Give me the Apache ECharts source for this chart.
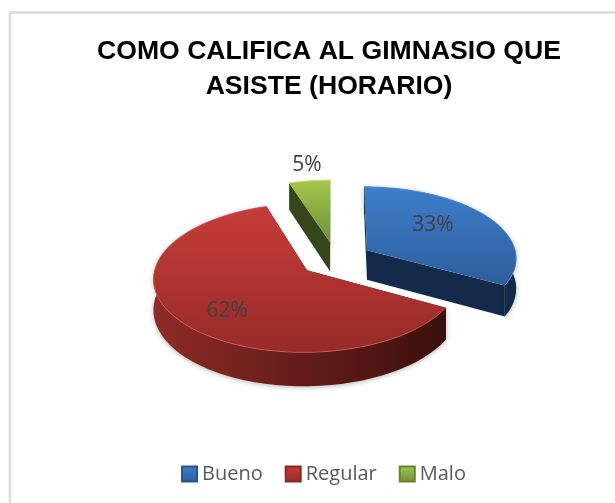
<!DOCTYPE html>
<html>
<head>
<meta charset="utf-8">
<style>html,body{margin:0;padding:0;background:#fff}#chart{width:615px;height:503px}</style>
<script src="https://cdn.jsdelivr.net/npm/echarts@6/dist/echarts.min.js"></script>
</head>
<body>
<div id="chart"></div>
<script>
var titleLines = ['COMO CALIFICA AL GIMNASIO QUE', 'ASISTE (HORARIO)'];
var categories = ['Bueno', 'Regular', 'Malo'];
var values = [33, 62, 5];

// colores: cara superior, pared exterior, pared de corte
var topColors = [['#3e7ecb', '#2d5d9b'], ['#c63c39', '#962a27'], ['#a5c84c', '#6e8e36']];
var wallColors = [['#1d3e68', '#122a49'], ['#8f2a26', '#3a0f0c'], ['#3c4c18', '#2e3b10']];
var cutColors = ['#132a4a', '#3a0f0c', '#36461a'];
var rimColors = ['#5b92d6', '#d2605c', '#bdd873'];
var iconBorders = ['#2a5487', '#8a2825', '#66822f'];

// proyeccion del disco
var CX = 335.7, CY = 259, R = 150, TILT = 0.476, PERSP = 0.1, DEPTH = 30, EXPLODE = 0.245;
// anclas de las etiquetas en el plano del disco
var labelAnchors = [[0.68, 0.5], [-0.675, -0.68], [-0.22, 1.51]];

function project(x, y, drop) {
  var p = 1 / (1 + PERSP * y);
  return [CX + R * x * p, CY - R * TILT * y * p + (drop ? DEPTH * p : 0)];
}

var total = values.reduce(function (a, b) { return a + b; }, 0);

function grad(c, horizontal) {
  return new echarts.graphic.LinearGradient(0, 0, horizontal ? 1 : 0, horizontal ? 0 : 1, [
    { offset: 0, color: c[0] },
    { offset: 1, color: c[1] }
  ]);
}

function renderSlice(params, api) {
  var idx = params.seriesIndex === 0 ? 2 : params.seriesIndex === 1 ? 0 : 1; // orden de pintado
  var start = api.value(0), end = api.value(1);
  var mid = (start + end) / 2;
  var ox = EXPLODE * Math.sin(mid), oy = EXPLODE * Math.cos(mid);
  var arc = [], i, n = 60;
  for (i = 0; i <= n; i++) {
    var a = start + (end - start) * i / n;
    arc.push([ox + Math.sin(a), oy + Math.cos(a)]);
  }
  var top = arc.map(function (q) { return project(q[0], q[1], false); });
  var bot = arc.map(function (q) { return project(q[0], q[1], true); });
  var apexTop = project(ox, oy, false), apexBot = project(ox, oy, true);
  var children = [];

  function poly(points, fill) {
    children.push({ type: 'polygon', shape: { points: points }, style: { fill: fill } });
  }
  // paredes de corte
  poly([apexTop, top[0], bot[0], apexBot], cutColors[idx]);
  poly([apexTop, top[n], bot[n], apexBot], cutColors[idx]);
  // pared exterior (la de Malo queda detras)
  if (idx !== 2) {
    children.push({
      type: 'polygon',
      shape: { points: top.concat(bot.slice().reverse()) },
      style: { fill: grad(wallColors[idx], true), shadowBlur: 5, shadowColor: 'rgba(0,0,0,0.3)', shadowOffsetY: 1 }
    });
  }
  // cara superior
  poly([apexTop].concat(top), grad(topColors[idx], false));
  // borde claro
  children.push({
    type: 'polyline',
    shape: { points: top },
    style: { fill: null, stroke: rimColors[idx], lineWidth: 1, opacity: 0.7 }
  });
  // etiqueta
  var pos = project(labelAnchors[idx][0], labelAnchors[idx][1], false);
  children.push({
    type: 'text',
    z2: 10,
    style: {
      text: Math.round(values[idx] / total * 100) + '%',
      x: pos[0], y: pos[1],
      align: 'center', verticalAlign: 'middle',
      fontFamily: '"Open Sans"', fontSize: 21, fill: '#404040'
    }
  });
  return { type: 'group', children: children };
}

// angulos acumulados en sentido horario desde arriba
var sliceData = [], acum = 0;
values.forEach(function (v, i) {
  var a0 = acum / total * Math.PI * 2;
  acum += v;
  sliceData.push({ name: categories[i], value: [a0, acum / total * Math.PI * 2] });
});

function makeSeries(i) {
  return {
    name: categories[i],
    type: 'custom',
    coordinateSystem: 'none',
    silent: true,
    animation: false,
    renderItem: renderSlice,
    itemStyle: { color: grad(topColors[i], false), borderColor: iconBorders[i], borderWidth: 1 },
    data: [sliceData[i]]
  };
}

var myChart = echarts.init(document.getElementById('chart'), null, { renderer: 'canvas' });
myChart.setOption({
  animation: false,
  backgroundColor: '#fff',
  graphic: [{
    type: 'rect', silent: true,
    shape: { x: 10, y: 12.5, width: 640, height: 520 },
    style: { fill: 'none', stroke: '#dcdcdc', lineWidth: 2.5 }
  }],
  title: {
    text: titleLines.join('\n'),
    left: 324, top: 29, textAlign: 'center',
    textStyle: { fontFamily: '"Liberation Sans"', fontWeight: 'bold', fontSize: 26.6, lineHeight: 35, color: '#000' }
  },
  legend: {
    data: categories, left: 176, top: 459,
    icon: 'rect', itemWidth: 15, itemHeight: 15, itemGap: 22,
    textStyle: { fontFamily: '"Open Sans"', fontSize: 20, color: '#595959' },
    selectedMode: false
  },
  series: [makeSeries(2), makeSeries(0), makeSeries(1)]
});
</script>
</body>
</html>
